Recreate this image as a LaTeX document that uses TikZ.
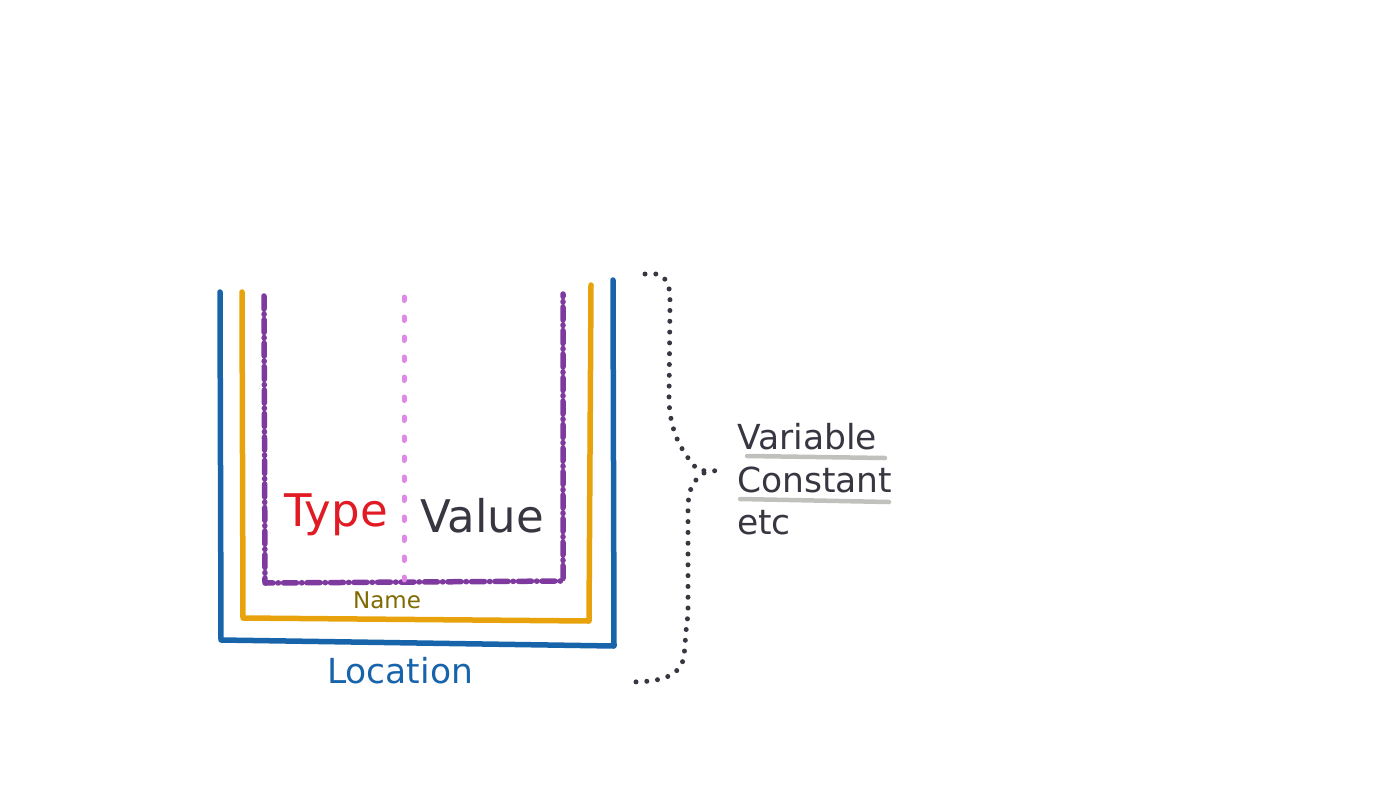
\documentclass[tikz,border=0pt]{standalone}
\usepackage{fontspec}
\setmainfont{DejaVu Sans}
\usetikzlibrary{calc}

\definecolor{locblue}{HTML}{1864AB}
\definecolor{nameorange}{HTML}{E8A30C}
\definecolor{grape}{HTML}{7E3A9E}
\definecolor{lightgrape}{HTML}{DE88E8}
\definecolor{typered}{HTML}{E01B24}
\definecolor{ink}{HTML}{393641}
\definecolor{olive}{HTML}{7F6A00}
\definecolor{underline}{HTML}{C0C0BC}

\begin{document}
\begin{tikzpicture} [x=1pt, y=-1pt, line join=round, line cap=round,
  big/.style={font=\fontsize{45}{50}\selectfont, inner sep=0pt, anchor=base},
  mid/.style={font=\fontsize{34.5}{40}\selectfont, inner sep=0pt},
  small/.style={font=\fontsize{23}{28}\selectfont, inner sep=0pt, anchor=base},
  dotline/.style={ink, line width=5pt, dash pattern=on 0pt off 10.8pt}]
\useasboundingbox (0,0) rectangle (1382,807);

% boxes
\draw[locblue, line width=5.5pt] (220,292) -- (221,640) -- (614,646) -- (613,280);
\draw[nameorange, line width=5.5pt] (242,292) -- (243,618) -- (589,621) -- (591,285);
\draw[grape, line width=5.5pt, dash pattern=on 13pt off 5pt on 0.5pt off 5pt] (264,296) -- (265,583) -- (563,581) -- (563,294);
\draw[lightgrape, line width=5pt, dash pattern=on 3.5pt off 16.5pt] (404,297) -- (404,580);

% labels
\node[big, typered] (type) at (336,526) {Type};
\node[big, ink] (value) at (482,532) {Value};
\node[small, olive] (name) at (387,608) {Name};
\node[mid, locblue, anchor=base] (location) at (400,683) {Location};

% brace
\draw[dotline] (645,274) -- (658,274) .. controls (670,280) and (670,290) .. (670,305)
  -- (669,400) .. controls (670,430) and (680,450) .. (697,469)
  .. controls (705,472) and (714,471) .. (723,470);
\draw[dotline] (704,473) .. controls (690,482) and (688,495) .. (688,510)
  -- (688,615) .. controls (684,640) and (686,660) .. (680,667)
  .. controls (672,677) and (660,682) .. (629,682);

% kinds
\node[mid, ink, anchor=base west] (variable) at (737,449) {Variable};
\node[mid, ink, anchor=base west] (constant) at (737,492) {Constant};
\node[mid, ink, anchor=base west] (etc) at (737,534) {etc};
\draw[underline, line width=4.5pt] (747,456) -- (885,458);
\draw[underline, line width=4.5pt] (740,499) -- (889,502);

\end{tikzpicture}
\end{document}
